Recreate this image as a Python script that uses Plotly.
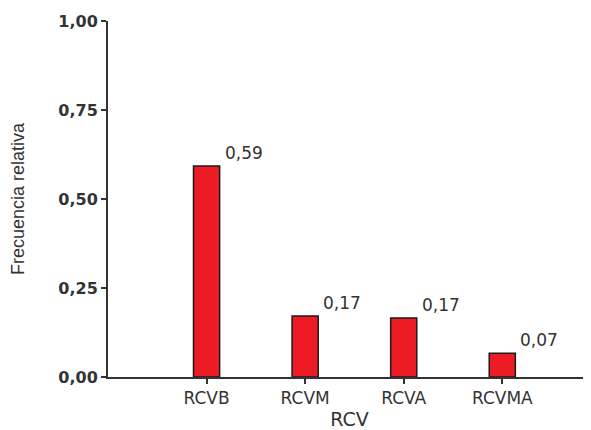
import plotly.graph_objects as go

categories = ["RCVB", "RCVM", "RCVA", "RCVMA"]
values = [0.593, 0.171, 0.166, 0.067]
labels = ["0,59", "0,17", "0,17", "0,07"]
y_ticks = [0, 0.25, 0.5, 0.75, 1.0]

fig = go.Figure()
fig.add_trace(go.Bar(
    x=categories, y=values, width=0.265,
    marker=dict(color="#ed1c24", line=dict(color="#1a1a1a", width=1.5)),
    hoverinfo="skip",
))
for c, v, t in zip(categories, values, labels):
    fig.add_annotation(x=c, y=v, text=t, showarrow=False, xanchor="left", yanchor="bottom",
                       xshift=16, yshift=1, font=dict(family="DejaVu Sans", size=17, color="#333"))

fig.update_layout(
    width=583, height=422, separators=",.",
    margin=dict(l=100, r=0, t=13, b=53),
    plot_bgcolor="white", paper_bgcolor="white", showlegend=False,
    font=dict(family="DejaVu Sans", color="#333"),
    xaxis=dict(range=[-1, 3.9], showline=True, linecolor="#333", linewidth=2,
               ticks="outside", ticklen=5, tickwidth=1.5, tickcolor="#333",
               tickfont=dict(size=17), showgrid=False, automargin=False,
               title=dict(text="RCV", font=dict(size=19), standoff=6)),
    yaxis=dict(range=[0, 1.0], tickvals=y_ticks, tickformat=".2f", showline=True,
               linecolor="#333", linewidth=2, ticks="outside", ticklen=5, tickwidth=1.5,
               tickcolor="#333", tickfont=dict(size=16, family="DejaVu Sans", weight="bold"),
               showgrid=False, zeroline=False, automargin=False,
               title=dict(text="Frecuencia relativa", font=dict(size=18, family="Liberation Sans"), standoff=29)),
)
fig.write_html("out.html")
